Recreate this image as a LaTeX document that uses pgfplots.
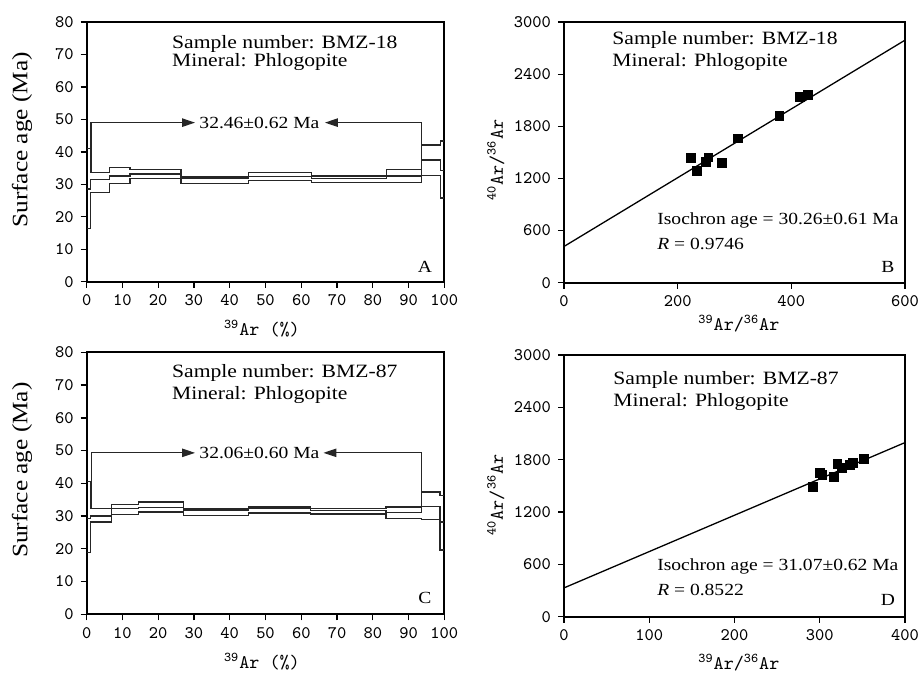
\documentclass[border=0pt]{standalone}
\usepackage{pgfplots}
\pgfplotsset{compat=1.18}
\usepackage{fontspec}
\setmainfont{Liberation Serif}[FakeStretch=1.15]
\usetikzlibrary{arrows.meta}
\pgfplotsset{
  panel/.style={
    scale only axis, clip=false,
    axis line style={line width=0.9pt, black},
    tick style={line width=0.7pt, black},
    tick align=outside, tick pos=left,
    major tick length=3pt,
    ticklabel style={font=\ttfamily\fontsize{8.8}{9}\selectfont},
    /pgf/number format/assume math mode=true,
    /pgf/number format/1000 sep={},
    label style={font=\ttfamily\fontsize{9.6}{10}\selectfont},
  },
  spec/.style={const plot, line width=0.7pt, black!85},
  brk/.style={line width=0.65pt, black!85, -{Triangle[length=6.5pt,width=4.2pt]}},
  iso/.style={line width=0.65pt, black},
  pts/.style={only marks, mark=square*, mark size=2.2pt, black},
}
\tikzset{
  txt/.style={font=\fontsize{9.4}{10}\selectfont, anchor=west, inner sep=0pt},
  itxt/.style={font=\fontsize{8.5}{10}\selectfont, anchor=west, inner sep=0pt},
}
\newcommand{\ann}{\fontsize{8.5}{10}\selectfont}
\begin{document}
\begin{tikzpicture}
\path[use as bounding box] (0,0) rectangle (461.5pt,337.5pt);

% ---------------- Panel A ----------------
\begin{axis}[panel, at={(43.35pt,196.65pt)}, anchor=south west,
  width=178.8pt, height=129.85pt,
  xmin=0, xmax=100, ymin=0, ymax=80,
  xtick={0,10,...,100}, ytick={0,10,...,80},
  xlabel={\textsuperscript{39}Ar (\%)},
  ylabel={\rmfamily\fontsize{11}{12}\selectfont Surface age (Ma)},
  xlabel style={at={(axis description cs:0.49,-0.18)}, anchor=center},
  ylabel style={at={(axis description cs:-0.181,0.546)}, anchor=center},
]
\addplot[spec] coordinates {(0,41)(1.0,33.6)(6.3,35.2)(12.1,34.6)(26.4,32.3)(45.2,33.7)(62.9,32.6)(83.9,34.6)(93.6,42.1)(99.0,43.4)(100,43.4)};
\addplot[spec] coordinates {(0,28.6)(1.0,31.4)(6.3,32.6)(12.1,33.2)(26.4,31.8)(45.2,32.4)(62.9,31.8)(83.9,32.6)(93.6,37.5)(99.0,34.2)(100,34.2)};
\addplot[spec] coordinates {(0,16.3)(1.0,27.4)(6.3,30.2)(12.1,31.8)(26.4,30.3)(45.2,31.1)(62.9,30.6)(83.9,30.6)(93.6,32.7)(99.0,25.8)(100,25.8)};
\addplot[brk] coordinates {(1.2,33.6)(1.2,49)(30.3,49)};
\addplot[brk] coordinates {(93.6,34.6)(93.6,49)(66.6,49)};
\node[font=\ann] at (axis cs:48.3,49) {32.46±0.62 Ma};
\node[txt] at (axis cs:23.8,73.3) {Sample number: BMZ-18};
\node[txt] at (axis cs:23.8,67.6) {Mineral: Phlogopite};
\node[font=\ann] at (axis cs:94.6,4.6) {A};
\end{axis}

% ---------------- Panel B ----------------
\begin{axis}[panel, at={(282pt,196.15pt)}, anchor=south west,
  width=170.5pt, height=130.3pt,
  xmin=0, xmax=600, ymin=0, ymax=3000,
  xtick={0,200,400,600}, ytick={0,600,...,3000},
  xlabel={\textsuperscript{39}Ar/\textsuperscript{36}Ar},
  ylabel={\textsuperscript{40}Ar/\textsuperscript{36}Ar},
  xlabel style={at={(axis description cs:0.513,-0.158)}, anchor=center},
  ylabel style={at={(axis description cs:-0.2,0.47)}, anchor=center},
]
\addplot[iso] coordinates {(0,417)(600,2792)};
\addplot[pts] coordinates {(223,1433)(233.5,1288)(250,1392)(254,1442)(277.5,1380)(305.6,1660)(379,1920)(415,2135)(429,2158)};
\node[txt] at (axis cs:84.5,2791) {Sample number: BMZ-18};
\node[txt] at (axis cs:84.5,2538) {Mineral: Phlogopite};
\node[itxt] at (axis cs:163.6,721) {Isochron age = 30.26±0.61 Ma};
\node[itxt] at (axis cs:163.6,445) {\textit{R} = 0.9746};
\node[font=\ann] at (axis cs:570,180) {B};
\end{axis}

% ---------------- Panel C ----------------
\begin{axis}[panel, at={(43.35pt,30.35pt)}, anchor=south west,
  width=178.8pt, height=131pt,
  xmin=0, xmax=100, ymin=0, ymax=80,
  xtick={0,10,...,100}, ytick={0,10,...,80},
  xlabel={\textsuperscript{39}Ar (\%)},
  ylabel={\rmfamily\fontsize{11}{12}\selectfont Surface age (Ma)},
  xlabel style={at={(axis description cs:0.49,-0.18)}, anchor=center},
  ylabel style={at={(axis description cs:-0.181,0.55)}, anchor=center},
]
\addplot[spec] coordinates {(0,40.5)(1.0,32.3)(6.9,33.6)(14.5,34.3)(27.0,32.2)(45.2,32.8)(62.6,32.3)(83.7,32.8)(93.6,37.4)(98.8,36.2)(100,36.2)};
\addplot[spec] coordinates {(0,29.3)(1.0,30.0)(6.9,32.3)(14.5,32.6)(27.0,31.8)(45.2,32.3)(62.6,31.7)(83.7,31.0)(93.6,32.9)(98.8,28.2)(100,28.2)};
\addplot[spec] coordinates {(0,18.8)(1.0,28.2)(6.9,30.5)(14.5,31.2)(27.0,30.1)(45.2,30.9)(62.6,30.6)(83.7,29.3)(93.6,29.0)(98.8,19.6)(100,19.6)};
\addplot[brk] coordinates {(1.4,32.3)(1.4,49.3)(30.3,49.3)};
\addplot[brk] coordinates {(93.6,32.8)(93.6,49.3)(66.2,49.3)};
\node[font=\ann] at (axis cs:48.3,49.3) {32.06±0.60 Ma};
\node[txt] at (axis cs:23.8,73.7) {Sample number: BMZ-87};
\node[txt] at (axis cs:23.8,67.0) {Mineral: Phlogopite};
\node[font=\ann] at (axis cs:94.6,5) {C};
\end{axis}

% ---------------- Panel D ----------------
\begin{axis}[panel, at={(282pt,29.15pt)}, anchor=south west,
  width=170.5pt, height=130.85pt,
  xmin=0, xmax=400, ymin=0, ymax=3000,
  xtick={0,100,...,400}, ytick={0,600,...,3000},
  xlabel={\textsuperscript{39}Ar/\textsuperscript{36}Ar},
  ylabel={\textsuperscript{40}Ar/\textsuperscript{36}Ar},
  xlabel style={at={(axis description cs:0.513,-0.175)}, anchor=center},
  ylabel style={at={(axis description cs:-0.2,0.465)}, anchor=center},
]
\addplot[iso] coordinates {(0,330)(400,1996)};
\addplot[pts] coordinates {(292.4,1485)(300.3,1652)(303,1630)(316.7,1607)(320.6,1752)(325.7,1703)(335.5,1740)(338.6,1760)(351.9,1806)};
\node[txt] at (axis cs:57.5,2712) {Sample number: BMZ-87};
\node[txt] at (axis cs:57.5,2460) {Mineral: Phlogopite};
\node[itxt] at (axis cs:109,581) {Isochron age = 31.07±0.62 Ma};
\node[itxt] at (axis cs:109,306) {\textit{R} = 0.8522};
\node[font=\ann] at (axis cs:380,190) {D};
\end{axis}
\end{tikzpicture}
\end{document}
